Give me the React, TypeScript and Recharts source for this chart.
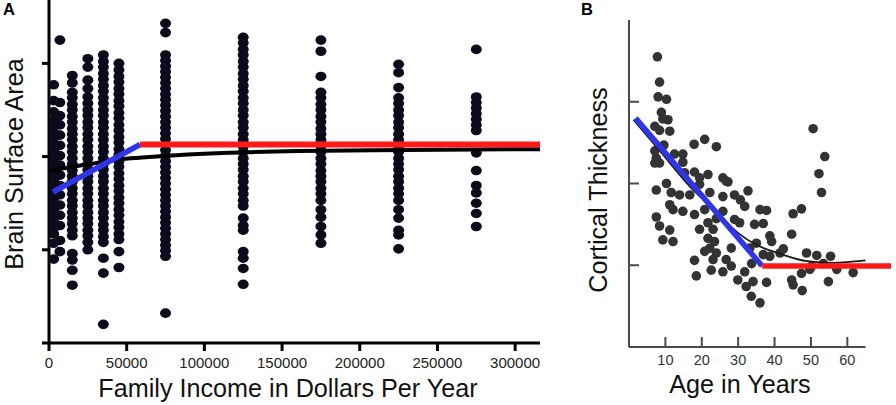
// Brain surface area vs income (A) and cortical thickness vs age (B)

import React from 'react';
import { ScatterChart, Scatter, XAxis, YAxis, ReferenceLine, Label } from 'recharts';

const FONT = '"Liberation Sans", Arial, Helvetica, sans-serif';

// ---- Panel A data ----
const incomeTicks = [0, 50000, 100000, 150000, 200000, 250000, 300000];
const areaTicks = [0, 1, 2, 3];

const incomeLevels = [3000, 7000, 15000, 25000, 35000, 45000, 75000, 125000, 175000, 225000, 275000];

const area3k = [2.77, 2.6, 2.48, 2.39, 2.33, 2.26, 2.2, 2.13, 2.07, 2.0, 1.94, 1.88, 1.81, 1.75, 1.68, 1.62, 1.55, 1.49, 1.43, 1.36, 1.3, 1.23, 1.17, 1.07, 0.9];
const area7k = [3.25, 2.58, 2.44, 2.34, 2.23, 2.12, 2.01, 1.91, 1.8, 1.69, 1.59, 1.48, 1.37, 1.26, 1.1, 0.98];
const area15k = [2.87, 2.79, 2.69, 2.63, 2.56, 2.5, 2.43, 2.37, 2.3, 2.24, 2.18, 2.11, 2.05, 1.98, 1.92, 1.85, 1.79, 1.73, 1.66, 1.6, 1.53, 1.47, 1.4, 1.34, 1.28, 1.21, 1.15, 0.96, 0.89, 0.78, 0.62];
const area25k = [3.05, 2.96, 2.82, 2.73, 2.64, 2.57, 2.5, 2.44, 2.37, 2.31, 2.24, 2.18, 2.11, 2.05, 1.98, 1.92, 1.86, 1.79, 1.73, 1.66, 1.6, 1.53, 1.47, 1.4, 1.34, 1.28, 1.21, 1.15, 1.08, 1.0];
const area35k = [3.09, 3.02, 2.96, 2.89, 2.83, 2.76, 2.7, 2.63, 2.57, 2.5, 2.44, 2.37, 2.31, 2.24, 2.18, 2.11, 2.05, 1.98, 1.92, 1.86, 1.79, 1.73, 1.66, 1.6, 1.53, 1.47, 1.4, 1.34, 1.27, 1.21, 1.14, 1.08, 0.91, 0.75, 0.2];
const area45k = [3.0, 2.93, 2.86, 2.8, 2.73, 2.67, 2.6, 2.54, 2.47, 2.41, 2.34, 2.28, 2.21, 2.15, 2.08, 2.02, 1.95, 1.89, 1.82, 1.76, 1.69, 1.63, 1.56, 1.5, 1.43, 1.37, 1.3, 1.24, 1.17, 1.11, 0.98, 0.81];
const area75k = [3.43, 3.33, 3.09, 3.03, 2.97, 2.91, 2.85, 2.79, 2.73, 2.67, 2.61, 2.55, 2.49, 2.43, 2.37, 2.31, 2.25, 2.19, 2.13, 2.07, 2.01, 1.95, 1.89, 1.83, 1.77, 1.71, 1.65, 1.59, 1.53, 1.47, 1.41, 1.35, 1.29, 1.23, 1.17, 1.11, 1.05, 0.99, 0.93, 0.32];
const area125k = [3.28, 3.22, 3.15, 3.09, 3.02, 2.96, 2.89, 2.83, 2.76, 2.7, 2.63, 2.57, 2.5, 2.44, 2.37, 2.31, 2.24, 2.18, 2.11, 2.05, 1.98, 1.92, 1.86, 1.79, 1.73, 1.66, 1.6, 1.53, 1.47, 1.34, 1.26, 1.21, 0.98, 0.91, 0.8, 0.63];
const area175k = [3.25, 3.13, 2.86, 2.69, 2.63, 2.56, 2.5, 2.43, 2.37, 2.3, 2.24, 2.18, 2.11, 2.05, 1.98, 1.92, 1.85, 1.79, 1.73, 1.66, 1.6, 1.53, 1.43, 1.35, 1.25, 1.16, 1.07];
const area225k = [2.99, 2.9, 2.74, 2.63, 2.57, 2.5, 2.44, 2.37, 2.31, 2.24, 2.18, 2.11, 2.05, 1.98, 1.92, 1.86, 1.79, 1.73, 1.66, 1.6, 1.53, 1.43, 1.34, 1.21, 1.16, 1.01];
const area275k = [3.15, 2.64, 2.58, 2.52, 2.46, 2.4, 2.34, 2.28, 2.04, 1.85, 1.69, 1.61, 1.5, 1.39, 1.25];

const areaColumns = [area3k, area7k, area15k, area25k, area35k, area45k, area75k, area125k, area175k, area225k, area275k];

// fitted lines
const incomeCurveX = [0, 15000, 30000, 45000, 60000, 100000, 160000, 230000, 316000];
const incomeCurveY = [1.84, 1.89, 1.93, 1.97, 1.99, 2.03, 2.06, 2.07, 2.08];
const incomeBlue = [{ x: 2600, y: 1.62 }, { x: 58600, y: 2.13 }];
const incomeRed = [{ x: 58600, y: 2.13 }, { x: 316000, y: 2.13 }];

// ---- Panel B data ----
const ageTicks = [10, 20, 30, 40, 50, 60];
const thicknessTicks = [1, 2, 3];

const ages = [
  7.8, 8.4, 8.0, 10.3, 8.9, 9.3, 10.7, 7.1, 8.4, 11.2, 9.6, 7.1, 7.5, 7.1, 8.4, 12.5, 14.8, 14.8, 17.9, 20.8,
  24.0, 18.0, 21.7, 19.4, 25.8, 27.2, 15.3, 7.5, 10.3, 11.6, 13.9, 16.7, 19.4, 22.2, 25.8, 26.7, 29.0, 32.7,
  31.8, 11.2, 12.1, 14.8, 18.0, 20.8, 25.8, 7.5, 8.4, 11.2, 9.3, 12.1, 19.4, 21.7, 23.1, 21.7, 23.5, 22.2,
  20.8, 24.0, 23.1, 22.6, 18.0, 18.5, 25.8, 26.7, 28.1, 29.0, 30.4, 28.1, 29.9, 31.8, 32.2, 33.6, 34.1, 34.5,
  35.0, 33.2, 50.6, 53.8, 52.2, 52.9, 36.0, 37.8, 45.1, 47.4, 36.9, 44.7, 38.7, 39.2, 42.4, 41.5, 36.9, 38.7,
  48.8, 51.6, 55.4, 53.4, 50.2, 47.4, 49.7, 57.1, 61.6, 54.8, 44.7, 45.1, 47.6, 37.8, 33.7, 36.0, 30.6, 24.0,
];
const thickness = [
  3.55, 3.24, 3.06, 3.03, 2.87, 2.79, 2.78, 2.7, 2.65, 2.64, 2.47, 2.4, 2.31, 2.25, 2.25, 2.36, 2.36, 2.26, 2.48, 2.54,
  2.45, 2.14, 2.11, 2.07, 2.07, 2.02, 2.13, 1.92, 2.0, 1.89, 1.86, 1.86, 1.99, 1.89, 1.84, 2.03, 1.86, 1.91,
  1.72, 1.74, 1.68, 1.66, 1.62, 1.68, 1.66, 1.59, 1.48, 1.43, 1.31, 1.29, 1.44, 1.52, 1.44, 1.33, 1.29, 1.21,
  1.17, 1.15, 1.07, 0.94, 1.06, 0.87, 0.92, 1.07, 1.21, 1.56, 1.52, 0.99, 0.82, 0.92, 0.74, 0.62, 0.8, 1.5,
  1.27, 1.21, 2.67, 2.33, 2.12, 1.89, 1.68, 1.67, 1.63, 1.69, 1.51, 1.38, 1.36, 1.29, 1.2, 1.15, 1.13, 1.11,
  1.15, 1.12, 1.11, 1.02, 0.99, 0.9, 0.95, 0.95, 0.91, 0.8, 0.82, 0.76, 0.69, 0.79, 1.02, 0.54, 1.8, 1.57,
];

const ageCurveX = [1.2, 9, 16.8, 23.7, 30.1, 35, 41.6, 49, 56, 65];
const ageCurveY = [2.78, 2.37, 1.96, 1.67, 1.39, 1.25, 1.14, 1.05, 1.03, 1.06];
const ageBlue = [{ x: 1.8, y: 2.8 }, { x: 36.6, y: 0.99 }];
const ageRed = [{ x: 36.6, y: 0.99 }, { x: 72, y: 0.99 }];

// tables built for the charts
const incomePoints = incomeLevels.flatMap((income, i) => areaColumns[i].map((v) => ({ x: income, y: v })));
const incomeCurve = incomeCurveX.map((x, i) => ({ x, y: incomeCurveY[i] }));
const agePoints = ages.map((x, i) => ({ x, y: thickness[i] }));
const ageCurve = ageCurveX.map((x, i) => ({ x, y: ageCurveY[i] }));

const dotA = (p: any) => <ellipse cx={p.cx} cy={p.cy} rx={5.5} ry={4.8} fill="#0b0b1c" />;
const dotB = (p: any) => <circle cx={p.cx} cy={p.cy} r={4.8} fill="#333333" />;
const noDot = () => <g />;
const noTick = () => <g />;

const GRAY = '#4a4a4a';

const AgeTick = (p: any) => (
  <g>
    <line x1={p.x} y1={p.y} x2={p.x} y2={p.y - 10} stroke={GRAY} strokeWidth={2} />
    <text x={p.x} y={p.y + 18} textAnchor="middle" fontSize={14.5} fill="#333" fontFamily={FONT}>
      {p.payload.value}
    </text>
  </g>
);

const ThickTick = (p: any) => (
  <line x1={p.x} y1={p.y} x2={p.x + 10} y2={p.y} stroke={GRAY} strokeWidth={2} />
);

const title = (text: string, x: number, y: number, rotate = false) => () => (
  <text
    x={x}
    y={y}
    textAnchor="middle"
    fontSize={25.2}
    fill="#111"
    fontFamily={FONT}
    transform={rotate ? `rotate(-90, ${x}, ${y})` : undefined}
  >
    {text}
  </text>
);

export default function App() {
  return (
    <div style={{ position: 'absolute', left: 0, top: 0, width: 896, height: 405, background: '#fff', overflow: 'hidden', fontFamily: FONT }}>
      <div style={{ position: 'absolute', left: 3, top: 0, fontSize: 16.5, fontWeight: 'bold', lineHeight: '18px' }}>A</div>
      <div style={{ position: 'absolute', left: 581, top: 0, fontSize: 16.5, fontWeight: 'bold', lineHeight: '18px' }}>B</div>

      <div style={{ position: 'absolute', left: 0, top: 0 }}>
        <ScatterChart width={545} height={405} margin={{ top: 0, right: 5, bottom: 0, left: 0 }}>
          <XAxis
            type="number"
            dataKey="x"
            domain={[0, 316000]}
            ticks={incomeTicks}
            interval={0}
            allowDataOverflow
            height={62}
            tickSize={8}
            tickMargin={6}
            axisLine={{ stroke: '#000', strokeWidth: 3 }}
            tickLine={{ stroke: '#000', strokeWidth: 3 }}
            tick={{ fontSize: 15, fill: '#222', fontFamily: FONT }}
          >
            <Label content={title('Family Income in Dollars Per Year', 288, 397)} />
          </XAxis>
          <YAxis
            type="number"
            dataKey="y"
            domain={[0, 3.68]}
            ticks={areaTicks}
            interval={0}
            allowDataOverflow
            width={49}
            tickSize={7}
            axisLine={{ stroke: '#000', strokeWidth: 3 }}
            tickLine={{ stroke: '#000', strokeWidth: 3 }}
            tick={noTick}
          >
            <Label content={title('Brain Surface Area', 23, 164, true)} />
          </YAxis>
          <Scatter data={incomePoints} shape={dotA} isAnimationActive={false} />
          <Scatter
            data={incomeCurve}
            shape={noDot}
            line={{ stroke: '#000', strokeWidth: 4 }}
            lineJointType="monotoneX"
            isAnimationActive={false}
          />
          <Scatter data={incomeBlue} shape={noDot} line={{ stroke: '#2f35e8', strokeWidth: 5.5 }} isAnimationActive={false} />
          <Scatter data={incomeRed} shape={noDot} line={{ stroke: '#ff1a1a', strokeWidth: 6 }} isAnimationActive={false} />
        </ScatterChart>
      </div>

      <div style={{ position: 'absolute', left: 576, top: 0 }}>
        <ScatterChart width={320} height={405} margin={{ top: 20, right: 5, bottom: 0, left: 0 }}>
          <XAxis
            type="number"
            dataKey="x"
            domain={[0, 72]}
            ticks={ageTicks}
            interval={0}
            allowDataOverflow
            height={58}
            tickSize={0}
            tickMargin={0}
            axisLine={false}
            tickLine={false}
            tick={AgeTick}
          >
            <Label content={title('Age in Years', 164, 393)} />
          </XAxis>
          <YAxis
            type="number"
            dataKey="y"
            domain={[0, 4]}
            ticks={thicknessTicks}
            interval={0}
            allowDataOverflow
            width={53}
            tickSize={0}
            tickMargin={0}
            axisLine={{ stroke: GRAY, strokeWidth: 2 }}
            tickLine={false}
            tick={ThickTick}
          >
            <Label content={title('Cortical Thickness', 31, 190, true)} />
          </YAxis>
          <ReferenceLine segment={[{ x: 0, y: 0 }, { x: 65, y: 0 }]} stroke={GRAY} strokeWidth={2} />
          <Scatter data={agePoints} shape={dotB} isAnimationActive={false} />
          <Scatter
            data={ageCurve}
            shape={noDot}
            line={{ stroke: '#1a1a1a', strokeWidth: 1.8 }}
            lineJointType="monotoneX"
            isAnimationActive={false}
          />
          <Scatter data={ageBlue} shape={noDot} line={{ stroke: '#2f35e8', strokeWidth: 5.5 }} isAnimationActive={false} />
          <Scatter data={ageRed} shape={noDot} line={{ stroke: '#ff1a1a', strokeWidth: 5.5 }} isAnimationActive={false} />
        </ScatterChart>
      </div>
    </div>
  );
}
